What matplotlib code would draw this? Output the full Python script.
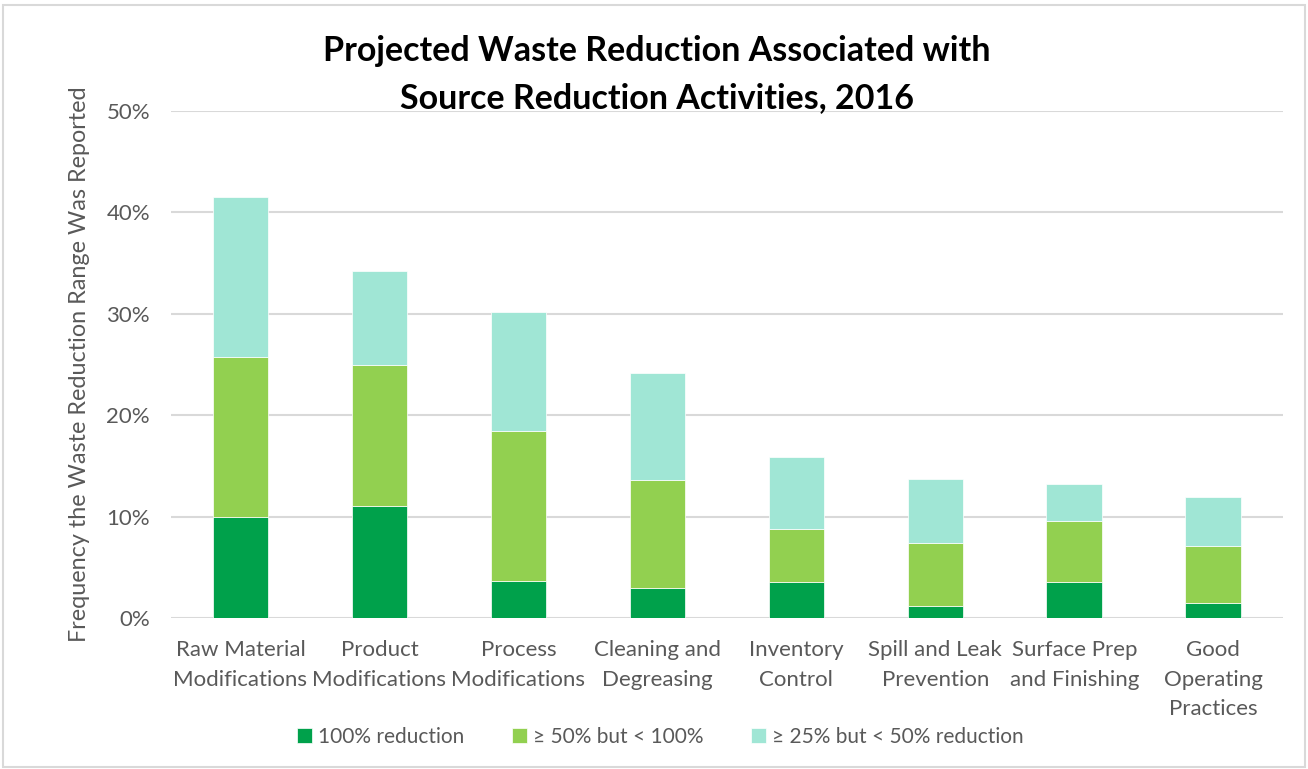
import matplotlib
matplotlib.use("Agg")
import matplotlib.pyplot as plt
from matplotlib.ticker import PercentFormatter
from matplotlib.patches import Rectangle
import numpy as np

categories = ["Raw Material\nModifications", "Product\nModifications", "Process\nModifications",
              "Cleaning and\nDegreasing", "Inventory\nControl", "Spill and Leak\nPrevention",
              "Surface Prep\nand Finishing", "Good\nOperating\nPractices"]
full_reduction = [10.0, 11.0, 3.6, 3.0, 3.5, 1.2, 3.5, 1.5]
half_to_full = [15.7, 13.9, 14.8, 10.6, 5.3, 6.2, 6.1, 5.6]
quarter_to_half = [15.8, 9.3, 11.8, 10.6, 7.1, 6.3, 3.6, 4.8]
series_names = ["100% reduction", "\u2265 50% but < 100%", "\u2265 25% but < 50% reduction"]
colors = ["#00A14B", "#92D050", "#A0E6D5"]

plt.rcParams['font.family'] = ['Lato', 'DejaVu Sans']

fig = plt.figure(figsize=(13.08, 7.69), dpi=100)
fig.patches.append(Rectangle((0.002, 0.002), 0.996, 0.992, transform=fig.transFigure,
                             fill=False, edgecolor="#D9D9D9", linewidth=1.5))
ax = fig.add_axes([0.1307, 0.1964, 0.850, 0.6593])

x = np.arange(len(categories))
bottom = np.zeros(len(categories))
for vals, name, c in zip([full_reduction, half_to_full, quarter_to_half], series_names, colors):
    ax.bar(x, vals, 0.4, bottom=bottom, color=c, label=name, zorder=3,
           edgecolor="white", linewidth=0.5)
    bottom += np.array(vals)

ax.set_xlim(-0.5, len(categories) - 0.5)
ax.set_ylim(0, 50)
ax.set_yticks([0, 10, 20, 30, 40, 50])
ax.yaxis.set_major_formatter(PercentFormatter(decimals=0))
ax.grid(axis="y", color="#D9D9D9", linewidth=1.5, zorder=0)
for s in ax.spines.values():
    s.set_visible(False)
ax.tick_params(axis="both", length=0, colors="#595959", labelsize=16)
ax.tick_params(axis="y", pad=15)
ax.tick_params(axis="x", pad=16)
ax.set_xticks(x)
ax.set_xticklabels(categories, linespacing=1.6)
ax.set_ylabel("Frequency the Waste Reduction Range Was Reported", fontsize=16.8,
              color="#595959", labelpad=12)

fig.text(0.502, 0.903, "Projected Waste Reduction Associated with\nSource Reduction Activities, 2016",
         ha="center", va="center", fontsize=24.5, fontweight="bold", color="black", linespacing=1.55)

leg = fig.legend(loc="center", bbox_to_anchor=(0.505, 0.042), ncol=3, frameon=False,
                 fontsize=15, handlelength=0.7, handleheight=0.7, handletextpad=0.3,
                 columnspacing=2.3)
for t in leg.get_texts():
    t.set_color("#595959")

fig.savefig("out.png", dpi=100)
